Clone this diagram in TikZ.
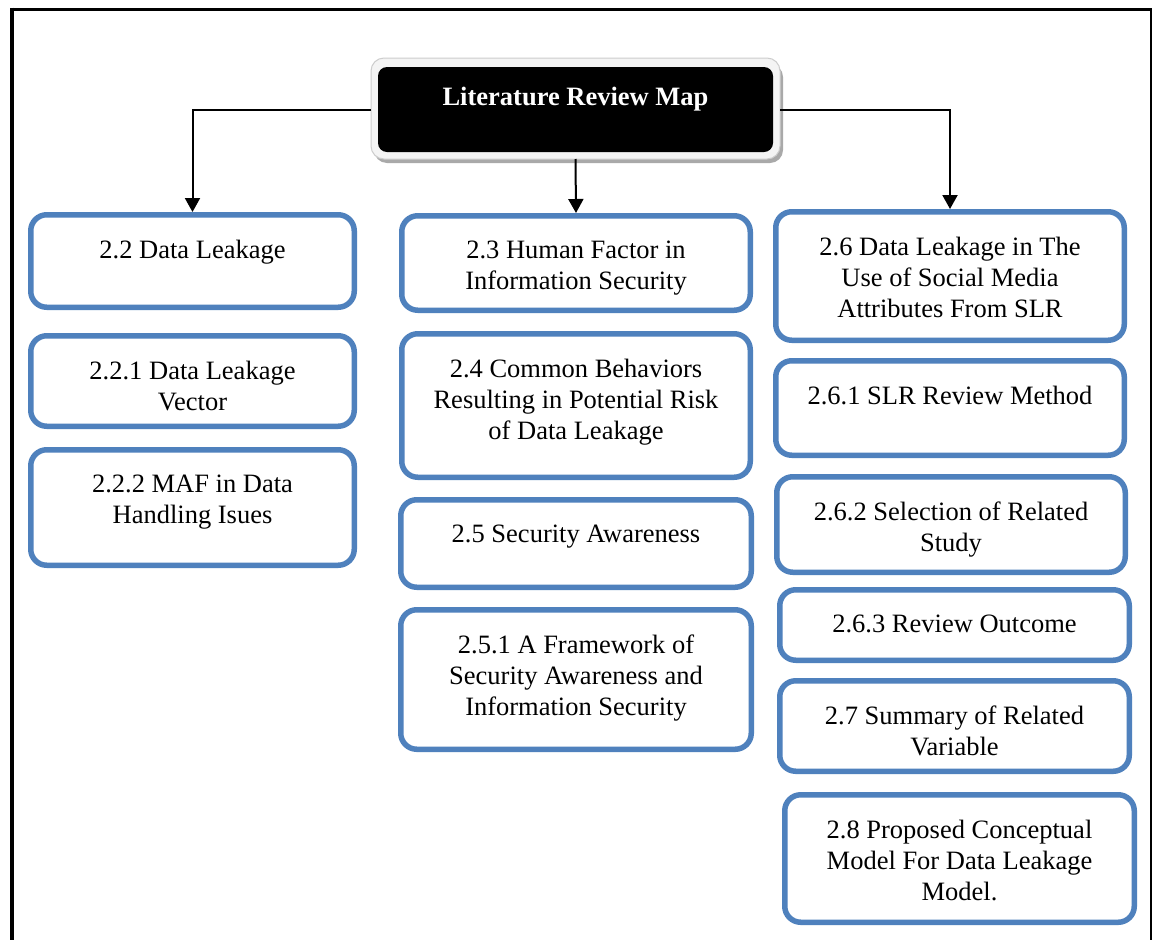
\documentclass[tikz,border=0pt]{standalone}
\usepackage{fontspec}
\setmainfont{Liberation Serif}
\usetikzlibrary{arrows.meta,calc,backgrounds}

\definecolor{secblue}{HTML}{4F81BD}
\definecolor{rimfill}{HTML}{F4F4F4}
\definecolor{rimedge}{HTML}{CDCDCD}
\definecolor{rimshadow}{HTML}{A9A9A9}

% section box: #1 name, #2/#3 top-left corner, #4/#5 bottom-right corner, #6 text
\newcommand\secnode[6]{%
  \node[secbox, minimum width={(#4)-(#2)-5.5}, minimum height={(#5)-(#3)-5.5}]
    (#1) at ({((#2)+(#4))/2},{((#3)+(#5))/2}) {};
  \node[sectext] (#1-text) at ([yshift=-27.5pt]#1.north) {#6};
}

\begin{document}
\begin{tikzpicture}[x=1pt, y=-1pt,
  secbox/.style={draw=secblue, line width=5.5pt, rounded corners=16pt,
    fill=white, inner sep=0pt},
  sectext/.style={anchor=north, align=center, inner sep=0pt,
    font=\fontsize{26.5}{31}\selectfont},
  titlebox/.style={fill=black, rounded corners=9pt, minimum width=395pt,
    text height=38pt, text depth=47pt, inner sep=0pt, outer sep=7pt,
    text=white, font=\fontsize{26.5}{31}\selectfont\bfseries},
  arr/.style={draw=black, line width=2pt,
    -{Triangle[width=15pt,length=14pt]}},
]
\useasboundingbox (0,0) rectangle (1156,940);

% page frame
\draw[line width=3pt] (10,9) -- (1151.5,9);
\draw[line width=4pt] (12,7.5) -- (12,940);
\draw[line width=2pt] (1150.5,8) -- (1150.5,940);

% title with its light rim and drop shadow
\node[titlebox] (title) at (575.5,109.5) {Literature Review Map};
\begin{scope}[on background layer]
  \fill[white] (0,0) rectangle (1156,940);
  \fill[rimshadow, rounded corners=13pt]
    ([shift={(3,4)}]title.north west) rectangle ([shift={(3,4)}]title.south east);
  \draw[fill=rimfill, draw=rimedge, line width=1pt, rounded corners=13pt]
    ([yshift=2pt]title.north west) rectangle (title.south east);
\end{scope}

% left column
\secnode{s22}{28}{212}{357}{310}{2.2 Data Leakage}
\secnode{s221}{28}{333}{357}{429}{2.2.1 Data Leakage\\Vector}
\secnode{s222}{28}{447}{357}{568}{2.2.2 MAF in Data\\Handling Isues}

% middle column
\secnode{s23}{399}{213}{753}{313}{2.3 Human Factor in\\Information Security}
\secnode{s24}{399}{331}{753}{480}{2.4 Common Behaviors\\Resulting in Potential Risk\\of Data Leakage}
\secnode{s25}{398}{497}{754}{590}{2.5 Security Awareness}
\secnode{s251}{398}{607}{754}{752}{2.5.1 A Framework of\\Security Awareness and\\Information Security}

% right column
\secnode{s26}{773}{209}{1127}{343}{2.6 Data Leakage in The\\Use of Social Media\\Attributes From SLR}
\secnode{s261}{773}{358}{1127}{458}{2.6.1 SLR Review Method}
\secnode{s262}{774}{474}{1128}{575}{2.6.2 Selection of Related\\Study}
\secnode{s263}{777}{587}{1132}{663}{2.6.3 Review Outcome}
\secnode{s27}{777}{678}{1132}{774}{2.7 Summary of Related\\Variable}
\secnode{s28}{782}{792}{1137}{925}{2.8 Proposed Conceptual\\Model For Data Leakage\\Model.}

% connectors
\draw[arr] (title.west) -| (s22.north);
\draw[arr] (title.south) -- (s23.north);
\draw[arr] (title.east) -| (s26.north);
\end{tikzpicture}
\end{document}
